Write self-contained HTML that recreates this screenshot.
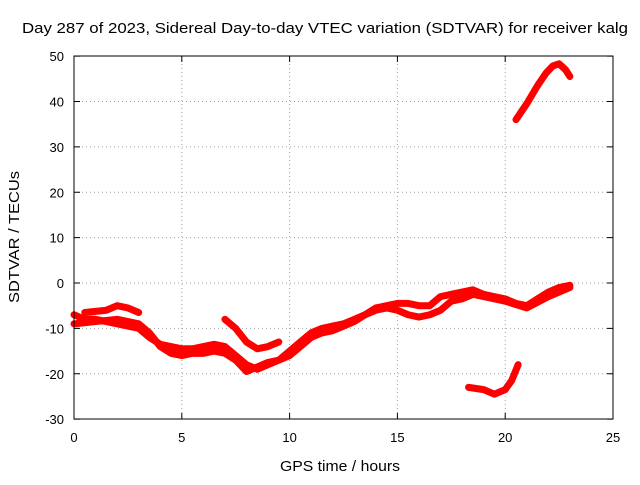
<!DOCTYPE html>
<html><head><meta charset="utf-8"><style>
body{margin:0;background:#fff;}
svg text{font-family:"Liberation Sans",sans-serif;font-size:13px;fill:#000;}
</style></head><body>
<svg id="chart" width="640" height="480" viewBox="0 0 640 480" xmlns="http://www.w3.org/2000/svg">
<rect width="640" height="480" fill="#fff"/>
<text x="22" y="33" textLength="606" lengthAdjust="spacingAndGlyphs" style="font-size:15px">Day 287 of 2023, Sidereal Day-to-day VTEC variation (SDTVAR) for receiver kalg</text>
<text x="280" y="471" textLength="120" lengthAdjust="spacingAndGlyphs" style="font-size:15px">GPS time / hours</text>
<text transform="translate(19,303) rotate(-90)" textLength="132" lengthAdjust="spacingAndGlyphs" style="font-size:15px">SDTVAR / TECUs</text>
<g id="grid"></g><g id="series"></g>
<rect x="74" y="56" width="539" height="363" fill="none" stroke="#000" stroke-width="1"/>
<g id="ticks"></g>
</svg>
<script>
const xTicks=[0,5,10,15,20,25];
const yTicks=[-30,-20,-10,0,10,20,30,40,50];
const trackA=[[0,-7],[0.5,-8],[1,-8],[1.5,-8.5],[2,-9],[2.5,-9.5],[3,-10],[3.5,-12],[4,-13.5],[4.5,-14],[5,-14.5],[5.5,-14.5],[6,-14],[6.5,-13.5],[7,-14],[7.5,-16],[8,-18],[8.5,-19],[9,-18],[9.5,-17],[10,-15],[10.5,-13],[11,-11],[11.5,-10],[12,-9.5],[12.5,-9],[13,-8],[13.5,-7],[14,-5.5],[14.5,-5],[15,-4.5],[15.5,-4.5],[16,-5],[16.5,-5],[17,-3],[17.5,-2.5],[18,-2],[18.5,-1.5],[19,-2.5],[19.5,-3],[20,-3.5],[20.5,-4.5],[21,-5],[21.5,-3.5],[22,-2],[22.5,-1],[23,-0.5]];
const trackB=[[0,-9],[1,-8.5],[2,-8],[3,-9],[3.5,-11],[4,-14],[4.5,-15.5],[5,-16],[5.5,-15.5],[6,-15.5],[6.5,-15],[7,-15.5],[7.5,-17],[8,-19.5],[8.5,-18.5],[9,-17.5],[9.5,-17],[10,-16],[10.5,-14],[11,-12],[11.5,-11],[12,-10.5],[12.5,-9.5],[13,-8.5],[13.5,-7],[14,-6],[14.5,-5.5],[15,-6],[15.5,-7],[16,-7.5],[16.5,-7],[17,-6],[17.5,-4],[18,-3.5],[18.5,-2.5],[19,-3],[20,-4],[21,-5.5],[22,-3],[23,-1]];
const trackC=[[0.5,-6.5],[1.5,-6],[2,-5],[2.5,-5.5],[3,-6.5]];
const trackD=[[7,-8],[7.5,-10],[8,-13],[8.5,-14.5],[9,-14],[9.5,-13]];
const trackE=[[18.3,-23],[19,-23.5],[19.5,-24.5],[20,-23.5],[20.3,-21.5],[20.6,-18]];
const trackF=[[20.5,36],[21,39.5],[21.5,43.5],[21.9,46.3],[22.2,47.8],[22.5,48.3],[22.8,47],[23,45.5]];
const tracks=[trackA,trackB,trackC,trackD,trackE,trackF];
const NS='http://www.w3.org/2000/svg';
const X=v=>74+v*(539/25), Y=v=>283-v*(363/80);
const grid=document.getElementById('grid'),ticks=document.getElementById('ticks'),ser=document.getElementById('series');
function mk(t,a,p){const e=document.createElementNS(NS,t);for(const k in a)e.setAttribute(k,a[k]);p.appendChild(e);return e;}
xTicks.forEach(v=>{const x=X(v);
 if(v>0&&v<25){const g=mk('line',{x1:x,x2:x,y1:56,y2:419,stroke:'#a0a0a0','stroke-dasharray':'1,3'},grid);
 
 }
 mk('line',{x1:x,x2:x,y1:419,y2:413,stroke:'#000'},ticks);mk('line',{x1:x,x2:x,y1:56,y2:62,stroke:'#000'},ticks);
 const t=mk('text',{x:x,y:442,'text-anchor':'middle'},ticks);t.textContent=v;
 
 });
yTicks.forEach(v=>{const y=Y(v);
 if(v>-30&&v<50){const g=mk('line',{x1:74,x2:613,y1:y,y2:y,stroke:'#a0a0a0','stroke-dasharray':'1,3'},grid);
 
 }
 mk('line',{x1:74,x2:80,y1:y,y2:y,stroke:'#000'},ticks);mk('line',{x1:613,x2:607,y1:y,y2:y,stroke:'#000'},ticks);
 const t=mk('text',{x:64,y:y+5,'text-anchor':'end'},ticks);t.textContent=v;
 
 });
tracks.forEach(tr=>{const p=mk('polyline',{points:tr.map(d=>X(d[0])+','+Y(d[1])).join(' '),fill:'none',stroke:'#ff0000','stroke-width':7,'stroke-linejoin':'round','stroke-linecap':'round'},ser);
 
 });
</script>
</body></html>
